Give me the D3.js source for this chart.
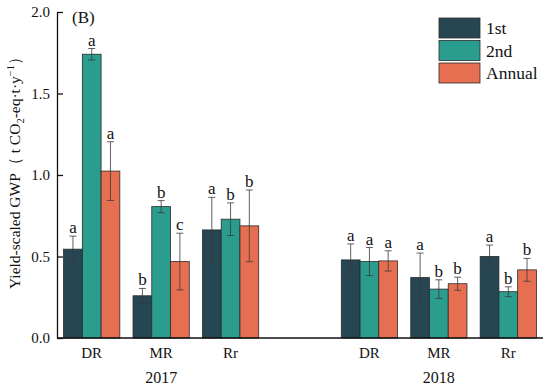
<!DOCTYPE html>
<html>
<head>
<meta charset="utf-8">
<script src="https://cdn.jsdelivr.net/npm/d3@7"></script>
<style>
  body { margin: 0; background: #fff; }
  text { font-family: "Liberation Serif", "Times New Roman", serif; fill: #111; }
</style>
</head>
<body>
<svg id="chart" width="550" height="391"></svg>
<script>
// treatments and years
var treatments = ["DR", "MR", "Rr"];
var years = ["2017", "2018"];
var seriesNames = ["1st", "2nd", "Annual"];
var colors = ["#264653", "#2a9d8f", "#e76f51"];

// values in order DR, MR, Rr (2017) then DR, MR, Rr (2018)
var first  = [0.545, 0.259, 0.663, 0.479, 0.371, 0.500];
var second = [1.741, 0.806, 0.729, 0.469, 0.300, 0.284];
var annual = [1.024, 0.469, 0.688, 0.473, 0.333, 0.418];

var errFirst  = [0.080, 0.045, 0.200, 0.098, 0.150, 0.070];
var errSecond = [0.035, 0.037, 0.100, 0.086, 0.057, 0.030];
var errAnnual = [0.180, 0.174, 0.220, 0.062, 0.040, 0.070];

var letFirst  = ["a", "b", "a", "a", "a", "a"];
var letSecond = ["a", "b", "b", "a", "b", "b"];
var letAnnual = ["a", "c", "b", "a", "b", "b"];

var yTicks = [0, 0.5, 1.0, 1.5, 2.0];

var svg = d3.select("#chart"),
    margin = {top: 12, right: 7, bottom: 53, left: 57},
    width = +svg.attr("width") - margin.left - margin.right,
    height = +svg.attr("height") - margin.top - margin.bottom;

var g = svg.append("g")
    .attr("transform", "translate(" + margin.left + "," + margin.top + ")");

// slots: 3 treatments, an empty gap, 3 treatments
var slots = [];
years.forEach(function(yr, i) {
    if (i > 0) slots.push("gap");
    treatments.forEach(function(t) { slots.push(t + "-" + yr); });
});
var keys = slots.filter(function(s) { return s !== "gap"; });

var x = d3.scaleBand()
    .domain(slots)
    .range([0, width])
    .paddingInner(0.19)
    .paddingOuter(0.095);

var xs = d3.scaleBand()
    .domain(seriesNames)
    .range([0, x.bandwidth()])
    .padding(0);

var y = d3.scaleLinear()
    .domain([0, 2])
    .range([height, 0]);

var series = [
    {name: "1st", vals: first, errs: errFirst, lets: letFirst},
    {name: "2nd", vals: second, errs: errSecond, lets: letSecond},
    {name: "Annual", vals: annual, errs: errAnnual, lets: letAnnual}
];

var data = [];
keys.forEach(function(k, i) {
    series.forEach(function(s, j) {
        data.push({key: k, series: s.name, color: colors[j],
                   v: s.vals[i], e: s.errs[i], l: s.lets[i]});
    });
});

// bars
g.selectAll(".bar")
    .data(data)
    .enter()
    .append("rect")
    .attr("class", "bar")
    .attr("x", function(d) { return x(d.key) + xs(d.series); })
    .attr("y", function(d) { return y(d.v); })
    .attr("width", xs.bandwidth())
    .attr("height", function(d) { return y(0) - y(d.v); })
    .attr("fill", function(d) { return d.color; })
    .attr("stroke", "#2b2b2b")
    .attr("stroke-width", 0.8);

// error bars
var cx = function(d) { return x(d.key) + xs(d.series) + xs.bandwidth() / 2; };
var eb = g.selectAll(".err")
    .data(data)
    .enter()
    .append("g")
    .attr("class", "err")
    .attr("stroke", "#3a3a3a")
    .attr("stroke-width", 0.8);

eb.append("line")
    .attr("x1", cx).attr("x2", cx)
    .attr("y1", function(d) { return y(d.v + d.e); })
    .attr("y2", function(d) { return y(d.v - d.e); });
eb.append("line")
    .attr("x1", function(d) { return cx(d) - 3.5; })
    .attr("x2", function(d) { return cx(d) + 3.5; })
    .attr("y1", function(d) { return y(d.v + d.e); })
    .attr("y2", function(d) { return y(d.v + d.e); });
eb.append("line")
    .attr("x1", function(d) { return cx(d) - 3.5; })
    .attr("x2", function(d) { return cx(d) + 3.5; })
    .attr("y1", function(d) { return y(d.v - d.e); })
    .attr("y2", function(d) { return y(d.v - d.e); });

// significance letters
g.selectAll(".letter")
    .data(data)
    .enter()
    .append("text")
    .attr("class", "letter")
    .attr("x", cx)
    .attr("y", function(d) { return y(d.v + d.e) - 3; })
    .attr("text-anchor", "middle")
    .style("font-size", "17px")
    .text(function(d) { return d.l; });

// y axis
var yAxis = g.append("g")
    .call(d3.axisLeft(y).tickValues(yTicks).tickSizeInner(-6).tickSizeOuter(0)
        .tickPadding(7).tickFormat(d3.format(".1f")));
yAxis.select(".domain").attr("stroke", "#111").attr("stroke-width", 1.3);
yAxis.selectAll(".tick line").attr("stroke", "#111").attr("stroke-width", 1.3);
yAxis.selectAll(".tick text").style("font-size", "15px")
    .style("font-family", "Liberation Serif").attr("fill", "#111");

// x axis line
g.append("line")
    .attr("x1", 0).attr("x2", width)
    .attr("y1", y(0)).attr("y2", y(0))
    .attr("stroke", "#111").attr("stroke-width", 1.3);

// treatment labels
g.selectAll(".xlab")
    .data(keys)
    .enter()
    .append("text")
    .attr("class", "xlab")
    .attr("x", function(k) { return x(k) + x.bandwidth() / 2; })
    .attr("y", height + 20)
    .attr("text-anchor", "middle")
    .style("font-size", "15px")
    .text(function(k) { return k.split("-")[0]; });

// year labels under the middle treatment
g.selectAll(".year")
    .data(years)
    .enter()
    .append("text")
    .attr("class", "year")
    .attr("x", function(yr) { return x("MR-" + yr) + x.bandwidth() / 2; })
    .attr("y", height + 45)
    .attr("text-anchor", "middle")
    .style("font-size", "16px")
    .text(function(yr) { return yr; });

// panel tag
g.append("text")
    .attr("x", 15)
    .attr("y", 11)
    .style("font-size", "17px")
    .text("(B)");

// y label
var yl = svg.append("text")
    .attr("transform", "translate(20,169) rotate(-90)")
    .attr("text-anchor", "middle")
    .style("font-size", "15.5px");
yl.append("tspan").text("Yield-scaled GWP\uff08 t CO");
yl.append("tspan").attr("dy", 4).style("font-size", "10.5px").text("2");
yl.append("tspan").attr("dy", -4).text("-eq\u00b7t\u00b7y");
yl.append("tspan").attr("dy", -6).style("font-size", "10.5px").text("\u22121");
yl.append("tspan").attr("dy", 6).text("\uff09");

// legend
var legend = svg.append("g")
    .attr("transform", "translate(439,18)");
var li = legend.selectAll(".leg")
    .data(seriesNames)
    .enter()
    .append("g")
    .attr("transform", function(d, i) { return "translate(0," + (i * 22.5) + ")"; });
li.append("rect")
    .attr("width", 41).attr("height", 20)
    .attr("fill", function(d, i) { return colors[i]; })
    .attr("stroke", "#2b2b2b").attr("stroke-width", 0.8);
li.append("text")
    .attr("x", 47).attr("y", 16)
    .style("font-size", "17.5px")
    .text(function(d) { return d; });
</script>
</body>
</html>
